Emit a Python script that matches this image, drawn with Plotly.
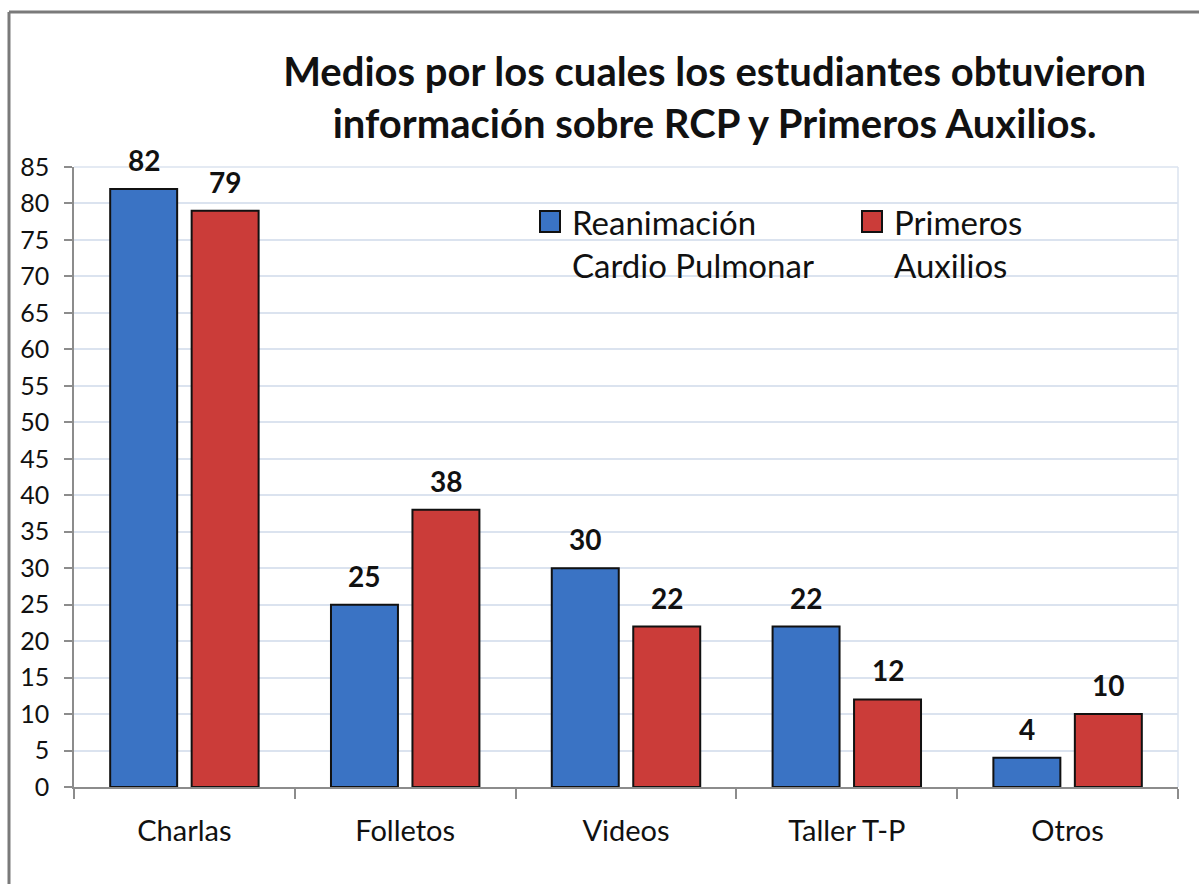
import plotly.graph_objects as go

categories = ["Charlas", "Folletos", "Videos", "Taller T-P", "Otros"]
rcp_values = [82, 25, 30, 22, 4]
pa_values = [79, 38, 22, 12, 10]
series_names = ["Reanimación<br>Cardio Pulmonar", "Primeros<br>Auxilios"]
y_ticks = list(range(0, 90, 5))

BLUE = "#3a73c4"
RED = "#cb3c39"
FONT = "Lato, 'Noto Sans', sans-serif"

PLOT_W = 1104
BARGAP = 0.262
SLOT_PX = PLOT_W / len(categories) * (1 - BARGAP) / 2

fig = go.Figure()
series = [(series_names[0], rcp_values, BLUE), (series_names[1], pa_values, RED)]
for name, vals, col in series:
    fig.add_trace(go.Bar(
        x=categories, y=vals, name=name,
        marker=dict(color=col, line=dict(color="#111111", width=2)),
        showlegend=False,
    ))

# value labels above bars
for i, (name, vals, col) in enumerate(series):
    for c, v in zip(categories, vals):
        fig.add_annotation(x=c, y=v, xref="x", yref="y", text=str(v), showarrow=False,
                           xanchor="center", yanchor="bottom",
                           xshift=(i - 0.5) * SLOT_PX, yshift=10,
                           font=dict(family=FONT, size=28, color="#111111", weight="bold"))

fig.update_layout(
    width=1199, height=884,
    margin=dict(l=74, r=21, t=167, b=97),
    paper_bgcolor="white", plot_bgcolor="white",
    barmode="group", bargap=BARGAP, bargroupgap=0.178,
    font=dict(family=FONT, color="#111111"),
    title=dict(
        text="Medios por los cuales los estudiantes obtuvieron<br>información sobre RCP y Primeros Auxilios.",
        x=0.596, xanchor="center", y=0.903, yanchor="top",
        font=dict(family=FONT, size=40, color="#111111", weight="bold"),
    ),
    xaxis=dict(
        showline=True, linecolor="#8c8c8c", linewidth=1.5, mirror=False,
        ticks="outside", tickson="boundaries", ticklen=10, tickcolor="#8c8c8c", tickwidth=1.5,
        tickfont=dict(family=FONT, size=29, color="#111111"),
        ticklabelstandoff=17,
    ),
    yaxis=dict(
        range=[0, 85], tickvals=y_ticks,
        showline=True, linecolor="#8c8c8c", linewidth=1.5,
        ticks="outside", ticklen=8, tickcolor="#8c8c8c", tickwidth=1.5,
        gridcolor="#dbe3ef", gridwidth=1.5,
        tickfont=dict(family=FONT, size=25, color="#111111"),
        ticklabelstandoff=10, zeroline=False,
    ),
)

# plot area light border (top/right)
fig.add_shape(type="line", xref="paper", yref="paper", x0=0, x1=1, y0=1, y1=1,
              line=dict(color="#dbe3ef", width=1.5))
fig.add_shape(type="line", xref="paper", yref="paper", x0=1, x1=1, y0=0, y1=1,
              line=dict(color="#dbe3ef", width=1.5))

# outer frame (top and left visible)
fx = (9 - 74) / 1104
fy = (787 - 12) / 620
fig.add_shape(type="line", xref="paper", yref="paper", x0=fx, x1=1.1, y0=fy, y1=fy,
              line=dict(color="#7a7a7a", width=3))
fig.add_shape(type="line", xref="paper", yref="paper", x0=fx, x1=fx, y0=fy, y1=-0.3,
              line=dict(color="#7a7a7a", width=3))

# manual legend
legend_items = [(series_names[0], BLUE, 540), (series_names[1], RED, 862)]
for name, col, px in legend_items:
    x0 = (px - 74) / 1104
    x1 = (px + 20 - 74) / 1104
    y0 = (787 - 232) / 620
    y1 = (787 - 211) / 620
    fig.add_shape(type="rect", xref="paper", yref="paper", x0=x0, x1=x1, y0=y0, y1=y1,
                  fillcolor=col, line=dict(color="#111111", width=2))
    fig.add_annotation(xref="paper", yref="paper", x=(px + 30 - 74) / 1104, y=(787 - 200) / 620,
                       xanchor="left", yanchor="top", align="left", showarrow=False,
                       text=name, font=dict(family=FONT, size=33, color="#111111"))

fig.write_html("out.html", config={"displayModeBar": False},
               post_script="document.body.style.margin='0';")
